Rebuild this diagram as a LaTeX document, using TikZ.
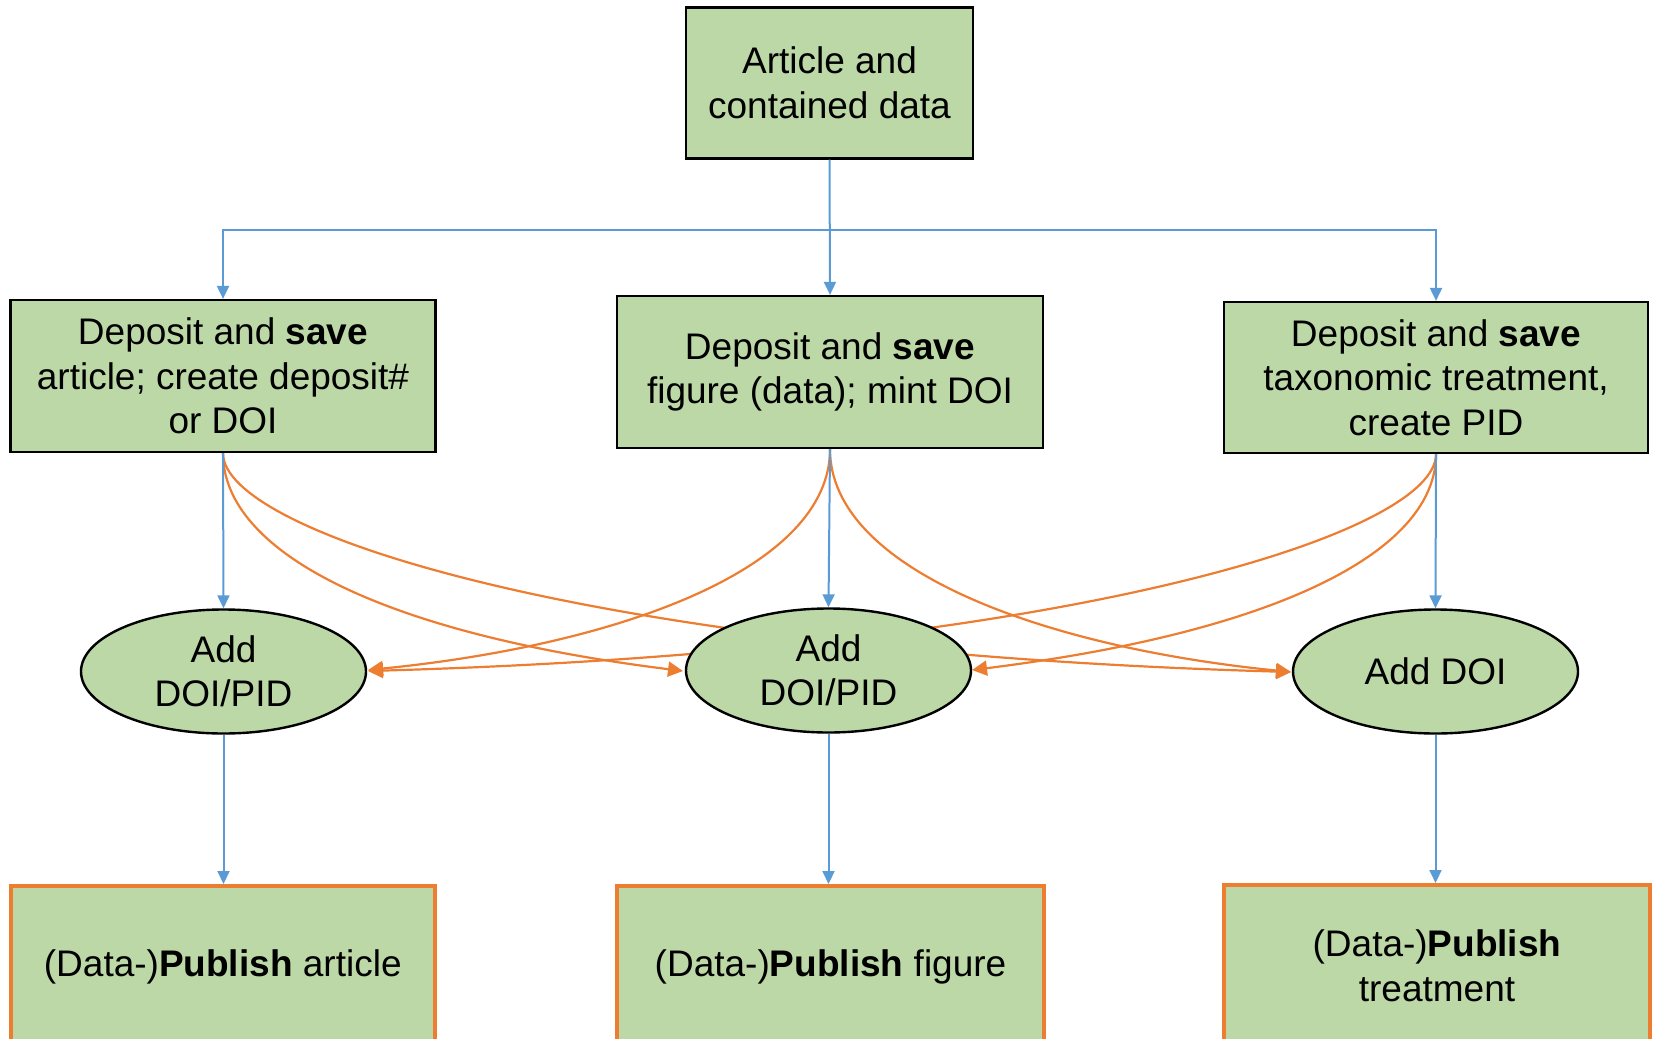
\documentclass[tikz,border=0pt]{standalone}
\usepackage{fontspec}
\setmainfont{Liberation Sans}
\usetikzlibrary{arrows.meta,shapes.geometric,backgrounds}
\definecolor{boxgreen}{RGB}{189,216,167}
\definecolor{lineblue}{RGB}{91,155,213}
\definecolor{lineorange}{RGB}{237,125,49}
\begin{document}
\begin{tikzpicture}[x=1pt,y=-1pt,
  every node/.style={font=\fontsize{37}{44.5}\selectfont, align=center, inner sep=0pt},
  rbox/.style={rectangle, draw=black, line width=2.2pt, fill=boxgreen},
  pbox/.style={rectangle, draw=lineorange, line width=4pt, fill=boxgreen},
  ell/.style={ellipse, draw=black, line width=2.4pt, fill=boxgreen, minimum width=285pt, minimum height=124pt},
  bl/.style={draw=lineblue, line width=2pt},
  bltip/.style={-{Triangle[length=13pt,width=12pt]}},
  orc/.style={draw=lineorange, line width=2.2pt, -{Triangle[length=15pt,width=15pt]}}
]
\useasboundingbox (0,0) rectangle (1653,1038);
\clip (0,0) rectangle (1653,1038);

% top
\node[rbox, minimum width=287pt, minimum height=151pt] (top) at (829.5,83) {Article and\\contained data};

% second row boxes
\node[rbox, minimum width=425pt, minimum height=152pt] (LB) at (223,376) {Deposit and \textbf{save}\\article; create deposit\#\\or DOI};
\node[rbox, minimum width=426pt, minimum height=152pt] (MB) at (830,372) {Deposit and \textbf{save}\\figure (data); mint DOI};
\node[rbox, minimum width=424pt, minimum height=151pt] (RB) at (1436,377.5) {Deposit and \textbf{save}\\taxonomic treatment,\\create PID};

% orange curves (behind the ellipses)
\begin{pgfonlayer}{background}
\draw[orc] (LB.south) .. controls +(0,100) and +(-298,-37) .. (683,671) coordinate (aA);
\draw[orc] (LB.south) .. controls +(0,80) and +(-700,-20) .. (1291,672) coordinate (aB);
\draw[orc] (RB.south) .. controls +(0,80) and +(700,-20) .. (368,671) coordinate (aC);
\draw[orc] (RB.south) .. controls +(0,100) and +(298,-37) .. (972,670) coordinate (aD);
\draw[orc] (MB.south) .. controls +(0,120) and +(250,-25) .. (368,670) coordinate (aE);
\draw[orc] (MB.south) .. controls +(0,120) and +(-250,-25) .. (1291,672) coordinate (aF);
\end{pgfonlayer}

% ellipses
\node[ell] (LE) at (223.5,671.5) {Add\\DOI/PID};
\node[ell] (ME) at (828.5,670.5) {Add\\DOI/PID};
\node[ell] (RE) at (1435.5,671.5) {Add DOI};

% bottom boxes
\node[pbox, minimum width=424.5pt, minimum height=162pt] (LP) at (222.75,967) {(Data-)\textbf{Publish} article};
\node[pbox, minimum width=427pt, minimum height=162pt] (MP) at (830.5,967) {(Data-)\textbf{Publish} figure};
\node[pbox, minimum width=426pt, minimum height=162pt] (RP) at (1437,966) {(Data-)\textbf{Publish}\\treatment};

% blue connectors
\coordinate (j) at (830,230);
\draw[bl,bltip] (top.south) -- (MB.north);
\draw[bl,{Triangle[length=13pt,width=12pt]}-{Triangle[length=13pt,width=12pt]}] (LB.north) -- (LB.north |- j) -- (RB.north |- j) -- (RB.north);
\draw[bl,bltip] (LB.south) -- (LE.north);
\draw[bl,bltip] (MB.south) -- (ME.north);
\draw[bl,bltip] (RB.south) -- (RE.north);
\draw[bl,bltip] (LE.south) -- (LE.south |- LP.north);
\draw[bl,bltip] (ME.south) -- (ME.south |- MP.north);
\draw[bl,bltip] (RE.south) -- (RE.south |- RP.north);
\end{tikzpicture}
\end{document}
